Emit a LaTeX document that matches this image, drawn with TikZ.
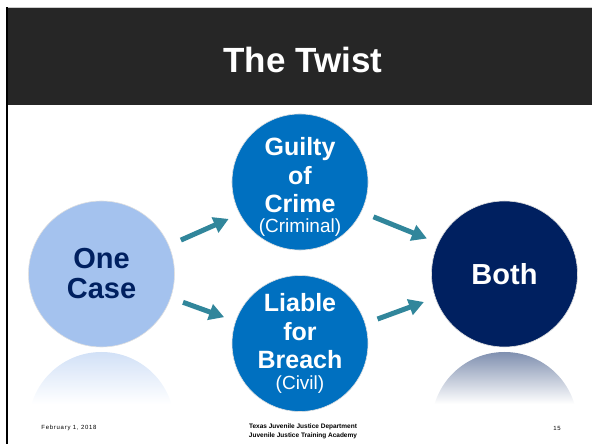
\documentclass[tikz,border=0pt]{standalone}
\usepackage{fontspec}
\setmainfont{Liberation Sans}
\newfontfamily\spacedfont[LetterSpace=12]{Liberation Sans}
\usetikzlibrary{arrows.meta}
\definecolor{bandgray}{HTML}{262626}
\definecolor{paleblue}{HTML}{A4C2EE}
\definecolor{midblue}{HTML}{0070C0}
\definecolor{navy}{HTML}{002060}
\definecolor{arrowteal}{HTML}{31869B}

\begin{document}
\begin{tikzpicture}[x=1pt,y=1pt]
    \tikzstyle{disc}=[circle,draw=white!88!black,line width=0.6pt,inner sep=0pt,align=center]
    \tikzstyle{link}=[line width=5pt,draw=arrowteal,-{Triangle[length=15pt,width=16pt]},shorten <=13pt,shorten >=12pt]
    \useasboundingbox (0,0) rectangle (592,444);

    % title band and frame
    \fill[bandgray] (7,339) rectangle (592,436);
    \draw[gray!40] (7,436.5) -- (592,436.5);
    \draw[line width=2pt] (6.5,0) -- (6.5,437);
    \node[text=white,font=\bfseries\fontsize{35}{40}\selectfont] (title) at (303,384) {The Twist};

    % reflections
    \foreach \x/\c in {101.5/paleblue, 504.5/navy} {
        \begin{scope}
            \clip (\x,19) circle (73);
            \shade[top color=\c!50!white,bottom color=white] (\x-75,40) rectangle (\x+75,92);
        \end{scope}
    }

    \node[disc,fill=paleblue,text=navy,minimum size=146pt,
          font=\bfseries\fontsize{29}{30}\selectfont] (one) at (101.5,170) {One\\Case};
    \node[disc,fill=midblue,text=white,minimum size=136pt,
          font=\bfseries\fontsize{25}{28.5}\selectfont] (guilty) at (300,262)
          {\rule{0pt}{28pt}Guilty\\of\\Crime\\[-9pt]{\mdseries\fontsize{19}{22}\selectfont(Criminal)}};
    \node[disc,fill=midblue,text=white,minimum size=136pt,
          font=\bfseries\fontsize{25}{28.5}\selectfont] (liable) at (300,100.5)
          {Liable\\for\\Breach\\[-8pt]{\mdseries\fontsize{19}{22}\selectfont(Civil)}};
    \node[disc,fill=navy,text=white,minimum size=146pt,
          font=\bfseries\fontsize{29}{30}\selectfont] (both) at (504.5,170) {Both};

    \foreach \from/\to in {one.23/guilty.208, one.-19/liable.161, guilty.-26/both.155, liable.17/both.199}
        \draw[link] (\from) -- (\to);

    % footer
    \node[font=\spacedfont\fontsize{6}{7}\selectfont] (date) at (69,16) {February 1, 2018};
    \node[font=\bfseries\fontsize{6.5}{8.5}\selectfont,align=center] (academy) at (303,12.5)
          {Texas Juvenile Justice Department\\Juvenile Justice Training Academy};
    \node[font=\spacedfont\fontsize{6}{7}\selectfont] (page) at (557,16) {15};
\end{tikzpicture}
\end{document}
